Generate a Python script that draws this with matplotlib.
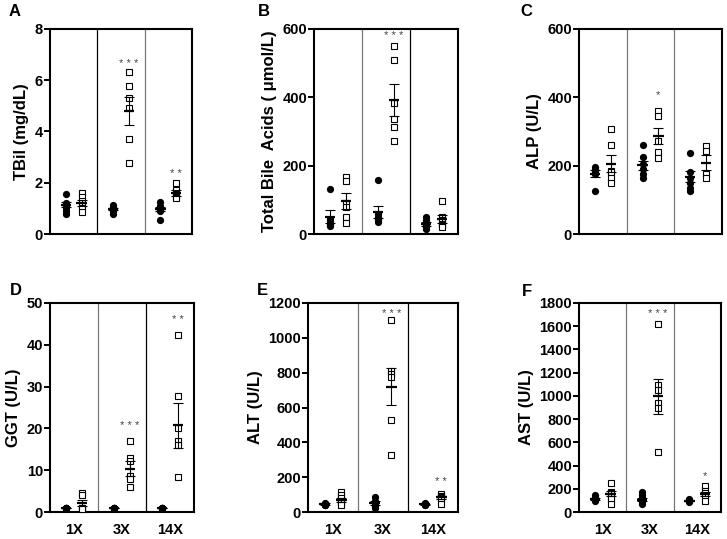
# -------------------------------------------------------------------------------------
# Libraries
import matplotlib
matplotlib.use('Agg')
import matplotlib.pyplot as plt

plt.rcParams['font.family'] = ['Liberation Sans', 'DejaVu Sans']
plt.rcParams['font.weight'] = 'bold'
# -------------------------------------------------------------------------------------

# -------------------------------------------------------------------------------------
# Data
groups = ['1X', '3X', '14X']

# A - TBil
tbil_dots = [[1.55, 1.2, 1.1, 1.0, 0.9, 0.8],
             [1.15, 1.05, 1.0, 0.95, 0.9, 0.8],
             [1.25, 1.1, 1.0, 0.95, 0.9, 0.55]]
tbil_sq = [[1.6, 1.45, 1.3, 1.15, 1.0, 0.85],
           [6.33, 5.76, 5.29, 4.92, 3.71, 2.77],
           [1.98, 1.7, 1.55, 1.45, 1.4]]
tbil_mean_dots = [1.14, 0.98, 0.97]
tbil_sem_dots = [0.1, 0.05, 0.09]
tbil_mean_sq = [1.2, 4.79, 1.6]
tbil_sem_sq = [0.12, 0.55, 0.1]
tbil_stars = ['', '***', '**']
tbil_star_y = [0, 6.76, 2.46]

# B - Total bile acids
tba_dots = [[132, 45, 38, 30, 25, 22],
            [158, 60, 50, 45, 40, 35],
            [50, 40, 30, 25, 20, 15]]
tba_sq = [[168, 155, 90, 80, 50, 33],
          [551, 510, 384, 337, 312, 272],
          [97, 50, 40, 30, 25, 20]]
tba_mean_dots = [51, 64, 30]
tba_sem_dots = [20, 18, 6]
tba_mean_sq = [96, 391, 45]
tba_sem_sq = [24, 47, 12]
tba_stars = ['', '***', '']
tba_star_y = [0, 588, 0]

# C - ALP
alp_dots = [[195, 190, 185, 178, 175, 125],
            [260, 224, 205, 190, 175, 164],
            [236, 180, 165, 150, 135, 126]]
alp_sq = [[306, 261, 185, 180, 165, 148],
          [359, 345, 273, 239, 222],
          [258, 242, 175, 164]]
alp_mean_dots = [177, 201, 168]
alp_sem_dots = [10, 14, 17]
alp_mean_sq = [205, 287, 209]
alp_sem_sq = [25, 23, 22]
alp_stars = ['', '*', '']
alp_star_y = [0, 417, 0]

# D - GGT
ggt_dots = [[1.0] * 6, [1.0] * 6, [1.0] * 6]
ggt_sq = [[4.6, 4.0, 1.0, 1.0, 0.8],
          [16.9, 12.9, 12.3, 8.5, 7.8, 6.0],
          [42.3, 27.8, 20.2, 17.1, 16.0, 8.3]]
ggt_mean_dots = [1.0, 1.0, 1.0]
ggt_sem_dots = [0.05, 0.05, 0.05]
ggt_mean_sq = [2.15, 10.4, 20.7]
ggt_sem_sq = [0.8, 1.8, 5.3]
ggt_stars = ['', '***', '**']
ggt_star_y = [0, 21.3, 46.8]

# E - ALT
alt_dots = [[50, 48, 45, 42, 40, 38],
            [86, 65, 50, 40, 35, 25],
            [50, 48, 45, 42, 40]]
alt_sq = [[115, 95, 80, 65, 50, 42],
          [1102, 810, 790, 777, 528, 330],
          [102, 90, 85, 80, 48]]
alt_mean_dots = [46, 52, 44]
alt_sem_dots = [3, 9, 3]
alt_mean_sq = [71, 720, 84]
alt_sem_sq = [11, 107, 9]
alt_stars = ['', '***', '**']
alt_star_y = [0, 1157, 192]

# F - AST
ast_dots = [[150, 130, 120, 110, 100, 95],
            [174, 150, 120, 100, 85, 72],
            [110, 105, 100, 95, 90]]
ast_sq = [[246, 175, 160, 130, 110, 72],
          [1617, 1091, 1050, 943, 894, 518],
          [223, 185, 160, 130, 93]]
ast_mean_dots = [110, 107, 95]
ast_sem_dots = [8, 16, 4]
ast_mean_sq = [159, 998, 156]
ast_sem_sq = [25, 150, 20]
ast_stars = ['', '***', '*']
ast_star_y = [0, 1736, 336]
# -------------------------------------------------------------------------------------


# -------------------------------------------------------------------------------------
# Method to draw one panel
def draw_panel(ax, dots, sq, m_dots, s_dots, m_sq, s_sq, stars, star_y,
               ymax, yticks, ylabel, divider_colors, show_x=False):

    for i in range(3):
        x_dot = 3 * i + 1
        x_sq = 3 * i + 2

        ax.plot([x_dot] * len(dots[i]), dots[i], 'o', color='black',
                markersize=4.2, clip_on=False, zorder=3)
        ax.plot([x_sq] * len(sq[i]), sq[i], 's', markerfacecolor='white',
                markeredgecolor='black', markeredgewidth=0.8, markersize=4.3,
                clip_on=False, zorder=3)

        # mean +/- sem
        for x, m, s in ((x_dot, m_dots[i], s_dots[i]), (x_sq, m_sq[i], s_sq[i])):
            ax.errorbar(x, m, yerr=s, fmt='none', ecolor='black', elinewidth=0.8,
                        capsize=3.5, capthick=0.8, zorder=4)
            ax.hlines(m, x - 0.33, x + 0.33, color='black', linewidth=1.6, zorder=5)

        # stars: glyph sits high in the em box, pull the baseline down
        if stars[i]:
            ax.annotate(' '.join(stars[i]), (x_sq, star_y[i]), xytext=(0, -4.5),
                        textcoords='offset points', ha='center', va='baseline',
                        fontsize=8, fontweight='normal', color='#444444')

    ax.axvline(3, color=divider_colors[0], linewidth=0.9)
    ax.axvline(6, color=divider_colors[1], linewidth=0.9)

    ax.set_xlim(0, 9)
    ax.set_ylim(0, ymax)
    ax.set_yticks(yticks)
    ax.set_yticklabels([str(t) for t in yticks], fontsize=10.5, fontweight='bold')
    ax.set_ylabel(ylabel, fontsize=12, fontweight='bold', labelpad=4)

    if show_x:
        ax.set_xticks([1.5, 4.5, 7.5])
        ax.set_xticklabels(groups, fontsize=10.5, fontweight='bold')
        ax.tick_params(axis='x', length=0, pad=8)
    else:
        ax.set_xticks([])

    ax.tick_params(axis='y', width=1.4, length=4, pad=1)
    for sp in ax.spines.values():
        sp.set_linewidth(1.5)

# -------------------------------------------------------------------------------------


# -------------------------------------------------------------------------------------
# Figure
fig = plt.figure(figsize=(7.27, 5.39), dpi=100)
W, H = 727.0, 539.0


def add_axes_px(left, top, right, bottom):
    return fig.add_axes([left / W, 1 - bottom / H, (right - left) / W, (bottom - top) / H])


ax_a = add_axes_px(50, 29, 192, 234)
ax_b = add_axes_px(314, 29, 458, 234)
ax_c = add_axes_px(579, 29, 722, 234)
ax_d = add_axes_px(50, 303, 194, 512)
ax_e = add_axes_px(308, 303, 458, 512)
ax_f = add_axes_px(579, 303, 721, 512)

grey = '#777777'
draw_panel(ax_a, tbil_dots, tbil_sq, tbil_mean_dots, tbil_sem_dots, tbil_mean_sq,
           tbil_sem_sq, tbil_stars, tbil_star_y, 8, [0, 2, 4, 6, 8],
           'TBil (mg/dL)', ('black', grey))
draw_panel(ax_b, tba_dots, tba_sq, tba_mean_dots, tba_sem_dots, tba_mean_sq,
           tba_sem_sq, tba_stars, tba_star_y, 600, [0, 200, 400, 600],
           'Total Bile  Acids ( \u03bcmol/L)', (grey, 'black'))
draw_panel(ax_c, alp_dots, alp_sq, alp_mean_dots, alp_sem_dots, alp_mean_sq,
           alp_sem_sq, alp_stars, alp_star_y, 600, [0, 200, 400, 600],
           'ALP (U/L)', (grey, grey))
draw_panel(ax_d, ggt_dots, ggt_sq, ggt_mean_dots, ggt_sem_dots, ggt_mean_sq,
           ggt_sem_sq, ggt_stars, ggt_star_y, 50, [0, 10, 20, 30, 40, 50],
           'GGT (U/L)', (grey, 'black'), show_x=True)
draw_panel(ax_e, alt_dots, alt_sq, alt_mean_dots, alt_sem_dots, alt_mean_sq,
           alt_sem_sq, alt_stars, alt_star_y, 1200, list(range(0, 1201, 200)),
           'ALT (U/L)', (grey, 'black'), show_x=True)
draw_panel(ax_f, ast_dots, ast_sq, ast_mean_dots, ast_sem_dots, ast_mean_sq,
           ast_sem_sq, ast_stars, ast_star_y, 1800, list(range(0, 1801, 200)),
           'AST (U/L)', (grey, grey), show_x=True)

# panel letters
for letter, x, y in (('A', 9, 16), ('B', 258, 16), ('C', 520, 16),
                     ('D', 10, 295), ('E', 257, 295), ('F', 522, 296)):
    fig.text(x / W, 1 - y / H, letter, fontsize=12, fontweight='bold', va='baseline')

fig.savefig('out.png', dpi=100)
# -------------------------------------------------------------------------------------
